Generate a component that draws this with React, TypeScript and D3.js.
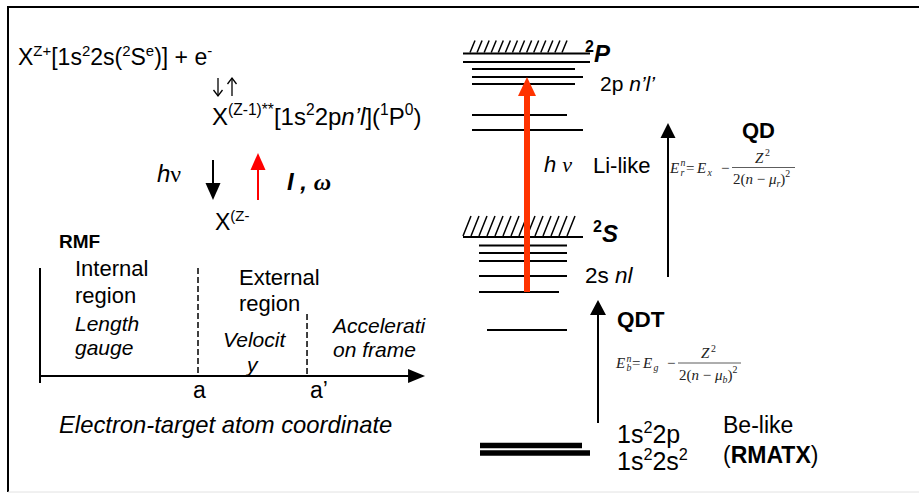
import React from 'react';
import * as d3 from 'd3';

const W = 919;
const H = 493;
const SANS = "'Liberation Sans', Arial, Helvetica, sans-serif";
const SERIF = "'Liberation Serif', 'Times New Roman', serif";

// ---------- Right diagram: energy levels (energy units, 0 = bottom) ----------
const levelEnergy = [416.5, 408, 401, 393, 386, 355, 340, 233, 224.5, 217, 209, 194, 178, 140, 24.5, 17];
const levelStart = [463, 463, 472, 472, 472, 472, 472, 463, 479, 479, 479, 479, 479, 487, 480, 480];
const levelEnd = [590, 590, 575, 583, 575, 567, 583, 583, 567, 567, 567, 567, 559, 567, 582, 590];
const levelWeight = [1.8, 1.8, 2, 2, 2, 2, 2, 1.8, 2, 2, 2, 2, 2, 2, 5.5, 5.5];

// hatched continuum thresholds (2P and 2S)
const hatchBase = [416.5, 233];
const hatchHeight = [13, 21];
const hatchFrom = [470, 463];
const hatchTo = [567, 575];
const hatchCount = [14, 14];
const hatchLean = [5, 8];

// arrows in the level diagram: x, from energy, to energy
const arrowX = [527, 668, 598];
const arrowFrom = [178, 193, 47];
const arrowTo = [393, 347, 170];
const arrowWidth = [6, 2, 2];
const arrowHeadLen = [19, 15, 15];
const arrowHeadW = [18, 15, 16];
const arrowColor = ['#FF3300', '#000', '#000'];

// ---------- Left diagram: radial coordinate (units of a) ----------
const boundaryLabels = ['a', 'a\u2019'];
const boundaryR = [1, 1.69];
const boundaryTop = [268, 314];
const boundaryLabelShift = [-5, 3];
const axisEndR = 2.437;

const yE = d3.scaleLinear().domain([0, 440]).range([470, 30]);
const xR = d3.scaleLinear().domain([0, 1]).range([40, 198]);
const axisY = 376;

type Seg = { t: string; sup?: boolean; sub?: boolean; i?: boolean; b?: boolean; f?: string; s?: number };

function Rich({ x, y, size, segs, family = SANS, weight = 'normal', italic = false, fill = '#000' }:
  { x: number; y: number; size: number; segs: Seg[]; family?: string; weight?: string; italic?: boolean; fill?: string }) {
  let cur = 0;
  return (
    <text x={x} y={y} fontSize={size} fontFamily={family} fontWeight={weight}
      fontStyle={italic ? 'italic' : 'normal'} fill={fill} style={{ whiteSpace: 'pre' }}>
      {segs.map((s, k) => {
        const target = s.sup ? -size * 0.4 : s.sub ? size * 0.2 : 0;
        const dy = target - cur;
        cur = target;
        const fs = s.s ?? (s.sup || s.sub ? size * 0.65 : size);
        return (
          <tspan key={k} dy={dy} fontSize={fs}
            fontStyle={s.i === undefined ? undefined : s.i ? 'italic' : 'normal'}
            fontWeight={s.b === undefined ? undefined : s.b ? 'bold' : 'normal'}
            fontFamily={s.f}>{s.t}</tspan>
        );
      })}
    </text>
  );
}

function Arrow({ x, y1, y2, w, hl, hw, color }: { x: number; y1: number; y2: number; w: number; hl: number; hw: number; color: string }) {
  const dir = y2 < y1 ? 1 : -1; // 1 = pointing up
  const base = y2 + dir * hl;
  return (
    <g>
      <line x1={x} x2={x} y1={y1} y2={base} stroke={color} strokeWidth={w} />
      <polygon points={`${x},${y2} ${x - hw / 2},${base} ${x + hw / 2},${base}`} fill={color} />
    </g>
  );
}

// thin glyph-like arrow with an open chevron head
function ThinArrow({ x, y1, y2 }: { x: number; y1: number; y2: number }) {
  const dir = y2 < y1 ? 1 : -1;
  return (
    <g stroke="#000" strokeWidth={1.3} fill="none">
      <line x1={x} x2={x} y1={y1} y2={y2} />
      <polyline points={`${x - 4.5},${y2 + dir * 6} ${x},${y2} ${x + 4.5},${y2 + dir * 6}`} />
    </g>
  );
}

function Formula({ x, y, sub, rhs, size = 15 }: { x: number; y: number; sub: string; rhs: string; size?: number }) {
  // y = fraction bar position
  const base = y + 5;
  const small = size * 0.66;
  return (
    <g fontFamily={SERIF} fontSize={size} fill="#222">
      <text x={x} y={base} fontStyle="italic">E</text>
      <text x={x + 10.5} y={base - 6.5} fontSize={small} fontStyle="italic">n</text>
      <text x={x + 10.5} y={base + 3} fontSize={small} fontStyle="italic">{sub}</text>
      <text x={x + 16} y={base}>=</text>
      <text x={x + 27} y={base} fontStyle="italic">E</text>
      <text x={x + 37.5} y={base + 3} fontSize={small} fontStyle="italic">{rhs}</text>
      <text x={x + 51} y={base}>{'\u2212'}</text>
      <line x1={x + 62} x2={x + 125} y1={y} y2={y} stroke="#333" strokeWidth={0.8} />
      <text x={x + 85} y={y - 5} fontStyle="italic">Z</text>
      <text x={x + 95} y={y - 11.5} fontSize={small}>2</text>
      <text x={x + 63} y={y + 16.5} style={{ whiteSpace: 'pre' }}>
        <tspan>2(</tspan><tspan fontStyle="italic">n</tspan><tspan>{' \u2212 '}</tspan>
        <tspan fontStyle="italic">{'\u03bc'}</tspan>
        <tspan fontSize={small} fontStyle="italic" dy={3}>{sub}</tspan>
        <tspan dy={-3}>)</tspan>
        <tspan fontSize={small} dy={-7}>2</tspan>
      </text>
    </g>
  );
}

export default function App() {
  const hatches: JSX.Element[] = [];
  hatchBase.forEach((b, h) => {
    const y0 = yE(b);
    const y1 = y0 - hatchHeight[h];
    const step = (hatchTo[h] - hatchFrom[h] - hatchLean[h]) / (hatchCount[h] - 1);
    for (let k = 0; k < hatchCount[h]; k++) {
      const xb = hatchFrom[h] + k * step;
      hatches.push(<line key={`h${h}-${k}`} x1={xb} y1={y0 - 1} x2={xb + hatchLean[h]} y2={y1} stroke="#000" strokeWidth={1.5} />);
    }
  });

  return (
    <svg width={W} height={H} viewBox={`0 0 ${W} ${H}`}
      style={{ position: 'absolute', left: 0, top: 0, background: '#fff' }}>
      <rect x={0} y={0} width={W} height={H} fill="#fff" />
      {/* frame */}
      <line x1={7} x2={W} y1={7} y2={7} stroke="#000" strokeWidth={2} />
      <line x1={8} x2={8} y1={6} y2={492} stroke="#000" strokeWidth={2} />
      <line x1={8} x2={W} y1={492} y2={492} stroke="#e2e2e2" strokeWidth={1} />

      {/* ---------------- left part ---------------- */}
      <Rich x={18} y={65} size={23} segs={[
        { t: 'X' }, { t: 'Z+', sup: true }, { t: '[1s' }, { t: '2', sup: true }, { t: '2s(' },
        { t: '2', sup: true }, { t: 'S' }, { t: 'e', sup: true }, { t: ')] + e' }, { t: '-', sup: true },
      ]} />
      <ThinArrow x={218} y1={78} y2={96} />
      <ThinArrow x={232} y1={96} y2={78} />
      <Rich x={212} y={125} size={24} segs={[
        { t: 'X' }, { t: '(Z-1)**', sup: true }, { t: '[1s' }, { t: '2', sup: true }, { t: '2p' },
        { t: 'n\u2019', i: true }, { t: 'l', i: true }, { t: '](' }, { t: '1', sup: true }, { t: 'P' },
        { t: '0', sup: true }, { t: ')' },
      ]} />
      <Rich x={157} y={182} size={24} segs={[{ t: 'h', i: true }, { t: '\u03bd', f: SERIF }]} />
      <Arrow x={213} y1={160} y2={200} w={2} hl={17} hw={15} color="#000" />
      <Arrow x={258} y1={200} y2={153} w={2} hl={17} hw={15} color="#FF0000" />
      <Rich x={287} y={190} size={24} weight="bold" italic segs={[{ t: 'I , ' }, { t: '\u03c9', f: SERIF }]} />
      <Rich x={215} y={230} size={23} segs={[{ t: 'X' }, { t: '(Z-', sup: true }]} />
      <text x={59} y={248} fontSize={19} fontWeight="bold" fontFamily={SANS}>RMF</text>

      {/* axes */}
      <line x1={xR(0)} x2={xR(0)} y1={268} y2={axisY + 7} stroke="#000" strokeWidth={2} />
      <line x1={xR(0)} x2={xR(axisEndR) - 14} y1={axisY} y2={axisY} stroke="#000" strokeWidth={2} />
      <polygon points={`${xR(axisEndR)},${axisY} ${xR(axisEndR) - 17},${axisY - 7} ${xR(axisEndR) - 17},${axisY + 7}`} fill="#000" />
      {boundaryR.map((r, k) => (
        <g key={`b${k}`}>
          <line x1={xR(r)} x2={xR(r)} y1={boundaryTop[k]} y2={axisY} stroke="#000" strokeWidth={1.5} strokeDasharray="6,3" />
          <text x={xR(r) + boundaryLabelShift[k]} y={398} fontSize={23} fontFamily={SANS}>{boundaryLabels[k]}</text>
        </g>
      ))}
      <g fontFamily={SANS} fontSize={22}>
        <text x={75} y={276}>Internal</text>
        <text x={75} y={303}>region</text>
        <text x={239} y={285}>External</text>
        <text x={239} y={311}>region</text>
      </g>
      <g fontFamily={SANS} fontSize={21} fontStyle="italic">
        <text x={75} y={331}>Length</text>
        <text x={75} y={355}>gauge</text>
        <text x={223} y={347}>Velocit</text>
        <text x={247} y={372}>y</text>
        <text x={333} y={333}>Accelerati</text>
        <text x={333} y={357}>on frame</text>
      </g>
      <text x={59} y={433} fontSize={23.8} fontStyle="italic" fontFamily={SANS}>Electron-target atom coordinate</text>

      {/* ---------------- right part ---------------- */}
      {hatches}
      {levelEnergy.map((e, k) => (
        <line key={`l${k}`} x1={levelStart[k]} x2={levelEnd[k]} y1={yE(e)} y2={yE(e)} stroke="#000" strokeWidth={levelWeight[k]} />
      ))}
      {arrowX.map((x, k) => (
        <Arrow key={`a${k}`} x={x} y1={yE(arrowFrom[k])} y2={yE(arrowTo[k])} w={arrowWidth[k]}
          hl={arrowHeadLen[k]} hw={arrowHeadW[k]} color={arrowColor[k]} />
      ))}

      <Rich x={585} y={62} size={24} weight="bold" segs={[{ t: '2', sup: true, s: 16 }, { t: 'P', i: true }]} />
      <Rich x={600} y={91} size={21} segs={[{ t: '2p ' }, { t: 'n\u2019l\u2019', i: true }]} />
      <Rich x={544} y={172} size={22} segs={[{ t: 'h ', i: true }, { t: '\u03bd', i: true, f: SERIF }]} />
      <text x={593} y={173} fontSize={22} fontFamily={SANS}>Li-like</text>
      <text x={742} y={138} fontSize={22} fontWeight="bold" fontFamily={SANS}>QD</text>
      <Formula x={670} y={167.5} sub="r" rhs="x" />

      <Rich x={593} y={242} size={24} weight="bold" segs={[{ t: '2', sup: true, s: 16 }, { t: 'S', i: true }]} />
      <Rich x={585} y={283} size={22.5} segs={[{ t: '2s ' }, { t: 'nl', i: true }]} />
      <text x={617} y={327} fontSize={22.5} fontWeight="bold" fontFamily={SANS}>QDT</text>
      <Formula x={616} y={363} sub="b" rhs="g" />

      <Rich x={617} y={443} size={25} segs={[{ t: '1s' }, { t: '2', sup: true }, { t: '2p' }]} />
      <Rich x={617} y={470} size={25} segs={[{ t: '1s' }, { t: '2', sup: true }, { t: '2s' }, { t: '2', sup: true }]} />
      <text x={723} y={433} fontSize={23} fontFamily={SANS}>Be-like</text>
      <Rich x={723} y={463} size={23} segs={[{ t: '(' }, { t: 'RMATX', b: true }, { t: ')' }]} />
    </svg>
  );
}
